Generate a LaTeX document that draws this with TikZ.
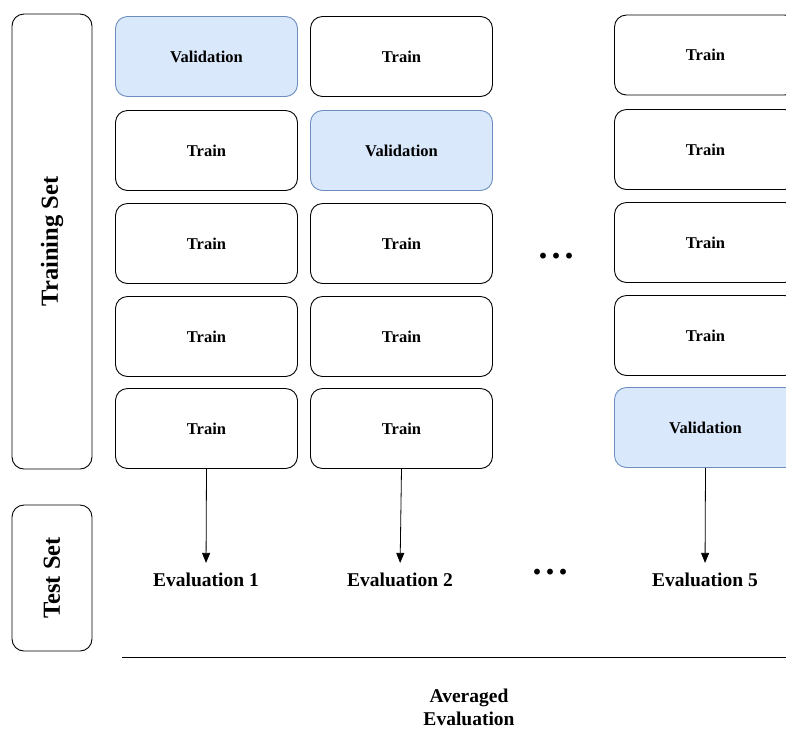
\documentclass[tikz,border=0pt]{standalone}
\usepackage{fontspec}
\setmainfont{Liberation Serif}[BoldFont={Liberation Serif Bold}]
\usetikzlibrary{arrows.meta}
\definecolor{valfill}{HTML}{DAE8FC}
\definecolor{valdraw}{HTML}{6C8EBF}
\tikzset{
  fold/.style={draw=black, line width=0.9pt, rounded corners=12pt, minimum width=182pt, minimum height=80pt, inner sep=0pt, font=\bfseries\fontsize{16.5}{18}\selectfont},
  trainbox/.style={fold, fill=white},
  valbox/.style={fold, fill=valfill, draw=valdraw},
  sidebox/.style={draw=black, line width=0.9pt, rounded corners=12pt, rotate=90, minimum height=80pt, inner sep=0pt, font=\bfseries\fontsize{24.5}{26}\selectfont},
  evallabel/.style={inner sep=2pt, font=\bfseries\fontsize{19.5}{22}\selectfont},
  dotslabel/.style={inner sep=0pt, font=\bfseries\fontsize{36}{38}\selectfont},
  conn/.style={-{Triangle[length=10pt,width=8pt]}, line width=0.8pt, shorten >=8pt}
}
\begin{document}
\begin{tikzpicture}[x=1pt,y=-1pt]
\useasboundingbox (0,0) rectangle (786,729);
\clip (0,0) rectangle (786,729);
% side boxes
\node[sidebox, minimum width=455pt] (trainset) at (52,241.5) {Training Set};
\node[sidebox, minimum width=146pt] (testset) at (52,578) {Test Set};
% column 1
\node[valbox]   (a1) at (206.5,56.5)  {Validation};
\node[trainbox] (a2) at (206.5,150.5) {Train};
\node[trainbox] (a3) at (206.5,243.5) {Train};
\node[trainbox] (a4) at (206.5,336.5) {Train};
\node[trainbox] (a5) at (206.5,428.5) {Train};
% column 2
\node[trainbox] (b1) at (401.5,56.5)  {Train};
\node[valbox]   (b2) at (401.5,150.5) {Validation};
\node[trainbox] (b3) at (401.5,243.5) {Train};
\node[trainbox] (b4) at (401.5,336.5) {Train};
\node[trainbox] (b5) at (401.5,428.5) {Train};
% column 3
\node[trainbox] (c1) at (705.5,55)  {Train};
\node[trainbox] (c2) at (705.5,149.5) {Train};
\node[trainbox] (c3) at (705.5,242.5) {Train};
\node[trainbox] (c4) at (705.5,335.5) {Train};
\node[valbox]   (c5) at (705.5,427.5) {Validation};
% dots
\node[dotslabel] (dots1) at (556,256) {.\kern4pt.\kern4pt.};
\node[dotslabel] (dots2) at (550,572) {.\kern4pt.\kern4pt.};
% evaluations
\node[evallabel] (e1) at (206,580) {Evaluation 1};
\node[evallabel] (e2) at (400,580) {Evaluation 2};
\node[evallabel] (e5) at (705,580) {Evaluation 5};
\draw[conn] (a5.south) -- (e1.north);
\draw[conn] (b5.south) -- (e2.north);
\draw[conn] (c5.south) -- (e5.north);
% line and averaged
\coordinate (lineL) at (122,657);
\coordinate (lineR) at (790,657);
\draw[line width=0.9pt] (lineL) -- (lineR);
\node[evallabel, align=center, font=\bfseries\fontsize{19.5}{23}\selectfont] (avg) at (469,707) {Averaged\\Evaluation};
\end{tikzpicture}
\end{document}
